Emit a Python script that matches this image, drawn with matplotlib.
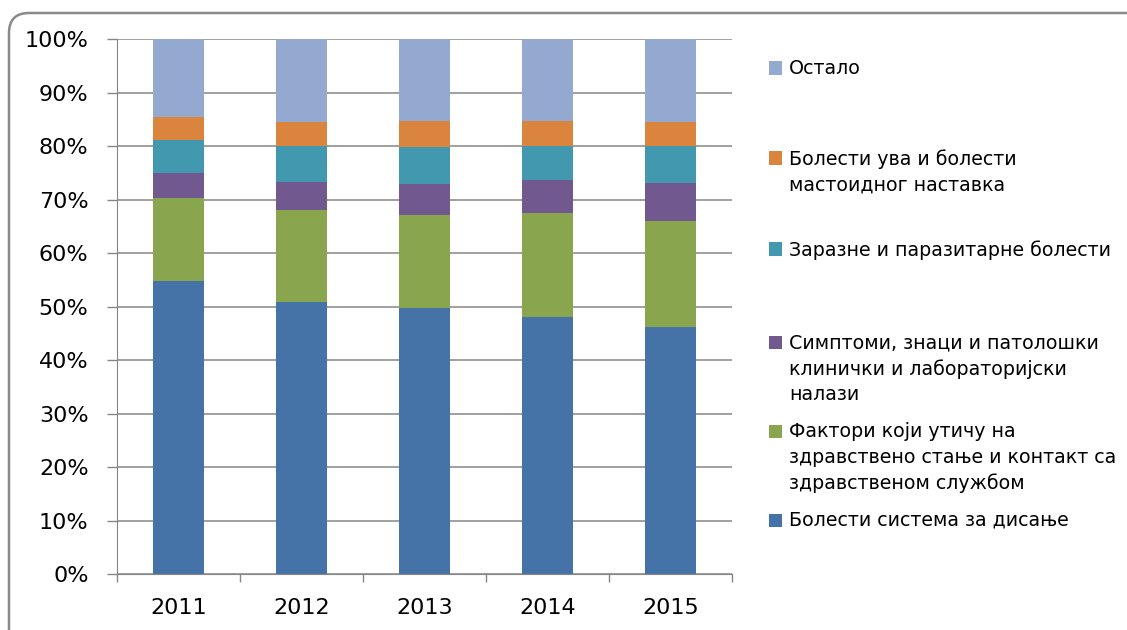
import numpy as np
import matplotlib.pyplot as plt
from matplotlib.patches import FancyBboxPatch, Rectangle

# %% Data: share of diagnoses per year (percent)
years = ['2011', '2012', '2013', '2014', '2015']

disanje    = [54.8, 50.9, 49.8, 48.1, 46.2]   # Болести система за дисање
faktori    = [15.5, 17.2, 17.3, 19.4, 19.8]   # Фактори који утичу на здравствено стање
simptomi   = [4.7, 5.2, 5.9, 6.2, 7.1]        # Симптоми, знаци ...
zarazne    = [6.2, 6.8, 6.9, 6.4, 7.0]        # Заразне и паразитарне болести
uvo        = [4.3, 4.5, 4.8, 4.6, 4.5]        # Болести ува ...
ostalo     = [14.5, 15.4, 15.3, 15.3, 15.4]   # Остало

labels = ['Болести система за дисање',
          'Фактори који утичу на\nздравствено стање и контакт са\nздравственом службом',
          'Симптоми, знаци и патолошки\nклинички и лабораторијски\nналази',
          'Заразне и паразитарне болести',
          'Болести ува и болести\nмастоидног наставка',
          'Остало']
series = [disanje, faktori, simptomi, zarazne, uvo, ostalo]
colors = ['#4573A7', '#89A54E', '#71588F', '#4198AF', '#DB843D', '#93A9CF']

# %% Figure layout (pixel based)
W, H = 1127, 630
fig = plt.figure(figsize=[W/100, H/100], dpi=100)
ax = fig.add_axes([117/W, 1-574/H, (732-117)/W, (574-39.3)/H])

grid_col = '#868686'
x = np.arange(len(years))
bottom = np.zeros(len(years))
for vals, col in zip(series, colors):
    ax.bar(x, vals, width=0.41, bottom=bottom, color=col, zorder=3)
    bottom = bottom + np.array(vals)

ax.set_xlim(-0.5, len(years)-0.5)
ax.set_ylim(0, 100)
ax.set_yticks(np.arange(0, 101, 10))
ax.set_yticklabels([str(v)+'%' for v in range(0, 101, 10)])
ax.yaxis.grid(True, color=grid_col, linewidth=1.1, zorder=0)
ax.tick_params(axis='y', length=7.5, width=1, color=grid_col, pad=13, labelsize=16)

# year labels at bar centres, tick marks between categories
ax.set_xticks(x)
ax.set_xticklabels(years)
ax.set_xticks(np.arange(-0.5, len(years)), minor=True)
ax.tick_params(axis='x', which='major', length=0, pad=17, labelsize=16)
ax.tick_params(axis='x', which='minor', length=6, width=1, color=grid_col)

for s in ['top', 'right']:
    ax.spines[s].set_visible(False)
ax.spines['left'].set_color(grid_col)
ax.spines['bottom'].set_color(grid_col)
ax.spines['left'].set_zorder(4)
ax.spines['bottom'].set_zorder(4)

# %% Legend drawn by hand, top entry = top of the stack
leg_y = [520, 431, 342, 249, 158, 68]   # centre of first line, px from top
for lab, col, yy in zip(labels, colors, leg_y):
    fig.patches.append(Rectangle((769/W, 1-(yy+6.5)/H), 13/W, 13/H,
                                 transform=fig.transFigure, facecolor=col,
                                 edgecolor='none'))
    fig.text(789/W, 1-(yy-9)/H, lab, fontsize=13.7, va='top', ha='left',
             linespacing=1.45)

# rounded chart border, in pixels (display coords)
frame = FancyBboxPatch((9, -30), 1150, 630-13+30,
                       boxstyle='round,pad=0,rounding_size=20',
                       transform=None, facecolor='none',
                       edgecolor='#8a8a8a', linewidth=1.8, clip_on=False)
fig.patches.append(frame)

plt.savefig('out.png', dpi=100)
